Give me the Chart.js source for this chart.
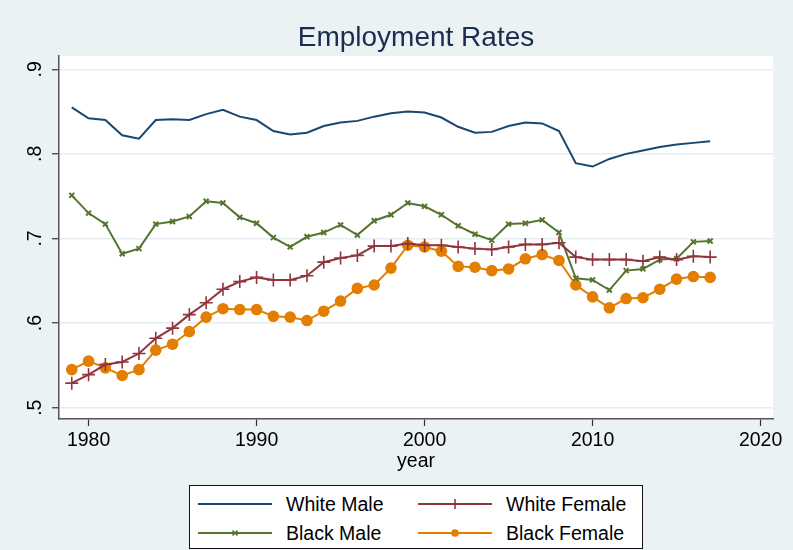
<!DOCTYPE html>
<html>
<head>
<meta charset="utf-8">
<style>
    html, body { margin: 0; padding: 0; background: #eaf2f3; }
    #wrap { position: relative; width: 793px; height: 550px; }
    #legend {
        position: absolute; left: 189px; top: 485px; width: 454px; height: 64px;
        background: #fff; border: 1.5px solid #111; box-sizing: border-box;
        font-family: 'Liberation Sans', Arial, sans-serif; font-size: 19.5px; color: #000;
    }
    .item { position: absolute; display: flex; align-items: center; height: 22px; }
    .item svg { margin-right: 14px; }
</style>
</head>
<body>
<div id="wrap">
    <canvas id="myChart" width="793" height="550"></canvas>
    <div id="legend"></div>
</div>
<script src="https://cdn.jsdelivr.net/npm/chart.js"></script>
<script>
    // data
    const years = [1979, 1980, 1981, 1982, 1983, 1984, 1985, 1986, 1987, 1988, 1989, 1990, 1991, 1992, 1993, 1994, 1995, 1996, 1997, 1998,
                   1999, 2000, 2001, 2002, 2003, 2004, 2005, 2006, 2007, 2008, 2009, 2010, 2011, 2012, 2013, 2014, 2015, 2016, 2017];
    const whiteMale = [0.855, 0.842, 0.840, 0.822, 0.818, 0.840, 0.841, 0.840, 0.847, 0.852, 0.844, 0.840, 0.827, 0.823, 0.825, 0.833, 0.837, 0.839, 0.844, 0.848,
                       0.850, 0.849, 0.843, 0.832, 0.825, 0.826, 0.833, 0.837, 0.836, 0.827, 0.789, 0.785, 0.794, 0.800, 0.804, 0.808, 0.811, 0.813, 0.815];
    const whiteFemale = [0.529, 0.539, 0.551, 0.554, 0.564, 0.582, 0.594, 0.610, 0.624, 0.640, 0.649, 0.654, 0.651, 0.651, 0.656, 0.672, 0.677, 0.680, 0.691, 0.691,
                         0.694, 0.692, 0.692, 0.690, 0.688, 0.687, 0.690, 0.693, 0.693, 0.695, 0.678, 0.675, 0.675, 0.675, 0.673, 0.678, 0.675, 0.679, 0.678];
    const blackMale = [0.751, 0.730, 0.717, 0.682, 0.688, 0.717, 0.720, 0.726, 0.744, 0.742, 0.725, 0.718, 0.701, 0.690, 0.702, 0.707, 0.716, 0.704, 0.721, 0.728,
                       0.742, 0.738, 0.728, 0.715, 0.705, 0.698, 0.717, 0.718, 0.722, 0.707, 0.653, 0.651, 0.639, 0.662, 0.664, 0.675, 0.676, 0.696, 0.697];
    const blackFemale = [0.545, 0.555, 0.547, 0.538, 0.545, 0.568, 0.575, 0.590, 0.607, 0.617, 0.616, 0.616, 0.608, 0.607, 0.603, 0.614, 0.626, 0.641, 0.645, 0.665,
                         0.692, 0.690, 0.685, 0.667, 0.666, 0.662, 0.664, 0.676, 0.681, 0.674, 0.645, 0.631, 0.618, 0.629, 0.630, 0.640, 0.652, 0.655, 0.654];

    const seriesNames = ['White Male', 'White Female', 'Black Male', 'Black Female'];
    const xTicks = [1980, 1990, 2000, 2010, 2020];
    const yTicks = [0.5, 0.6, 0.7, 0.8, 0.9];
    const yTickLabels = ['.5', '.6', '.7', '.8', '.9'];

    const FONT = "'Liberation Sans', Arial, sans-serif";
    const colors = ['#1a476f', '#90353b', '#55752f', '#e37e00'];
    const markers = [
        { pointStyle: 'circle', pointRadius: 0, pointBorderWidth: 0 },
        { pointStyle: 'cross', pointRadius: 6.5, pointBorderWidth: 1.6 },
        { pointStyle: 'crossRot', pointRadius: 3.5, pointBorderWidth: 2 },
        { pointStyle: 'circle', pointRadius: 5.8, pointBorderWidth: 0 }
    ];
    const series = [whiteMale, whiteFemale, blackMale, blackFemale];

    const datasets = series.map((vals, i) => Object.assign({
        label: seriesNames[i],
        data: years.map((yr, j) => ({ x: yr, y: vals[j] })),
        borderColor: colors[i],
        backgroundColor: colors[i],
        pointBackgroundColor: colors[i],
        pointBorderColor: colors[i],
        borderWidth: 2,
        tension: 0,
        fill: false
    }, markers[i]));

    // background, plot region, title and rotated y labels
    const stataLook = {
        id: 'stataLook',
        beforeDraw(chart) {
            const { ctx, chartArea: a } = chart;
            ctx.save();
            ctx.fillStyle = '#eaf2f3';
            ctx.fillRect(0, 0, chart.width, chart.height);
            ctx.fillStyle = '#ffffff';
            ctx.fillRect(a.left, a.top, a.right - a.left, a.bottom - a.top);
            ctx.restore();
        },
        afterDraw(chart) {
            const { ctx, chartArea: a } = chart;
            const yScale = chart.scales.y;
            ctx.save();
            ctx.fillStyle = '#1c2c50';
            ctx.font = '28px ' + FONT;
            ctx.textAlign = 'center';
            ctx.textBaseline = 'middle';
            ctx.fillText('Employment Rates', (a.left + a.right) / 2, 38);
            ctx.fillStyle = '#000';
            ctx.font = '19.5px ' + FONT;
            yTicks.forEach((v, i) => {
                const py = yScale.getPixelForValue(v);
                ctx.save();
                ctx.translate(36, py);
                ctx.rotate(-Math.PI / 2);
                ctx.fillText(yTickLabels[i], 0, 0);
                ctx.restore();
            });
            ctx.restore();
        }
    };

    const ctx = document.getElementById('myChart').getContext('2d');
    const myChart = new Chart(ctx, {
        type: 'line',
        data: { datasets: datasets },
        options: {
            responsive: false,
            animation: false,
            layout: { padding: { top: 56, right: 20, bottom: 77, left: 0 } },
            plugins: {
                legend: { display: false },
                title: { display: false },
                tooltip: { enabled: false }
            },
            scales: {
                x: {
                    type: 'linear',
                    min: 1978.24,
                    max: 2020.74,
                    afterBuildTicks: s => { s.ticks = xTicks.map(v => ({ value: v })); },
                    afterFit: s => { s.height = 54; },
                    ticks: {
                        color: '#000',
                        font: { family: FONT, size: 19.5 },
                        padding: 3,
                        maxRotation: 0,
                        callback: v => String(v)
                    },
                    grid: { drawOnChartArea: false, drawTicks: true, tickLength: 7, tickColor: '#333', tickWidth: 1.2 },
                    border: { color: '#555', width: 1.5 },
                    title: {
                        display: true,
                        text: 'year',
                        color: '#000',
                        font: { family: FONT, size: 19.5 },
                        padding: { top: 0, bottom: 0 }
                    }
                },
                y: {
                    min: 0.4866,
                    max: 0.9157,
                    afterBuildTicks: s => { s.ticks = yTicks.map(v => ({ value: v })); },
                    afterFit: s => { s.width = 59; },
                    ticks: { display: false },
                    grid: { color: '#e4eef0', lineWidth: 1.5, drawTicks: true, tickLength: 7, tickColor: '#333', tickWidth: 1.2 },
                    border: { color: '#555', width: 1.5 }
                }
            }
        },
        plugins: [stataLook]
    });

    // legend box, two columns like the reference
    const legend = document.getElementById('legend');
    const legendPos = [[8, 7], [228, 7], [8, 36], [228, 36]];
    const order = [0, 1, 2, 3];
    order.forEach((i, k) => {
        const c = colors[i];
        let mark = '';
        if (i === 1) mark = `<line x1="37" y1="2" x2="37" y2="12" stroke="${c}" stroke-width="1.6"/>`;
        if (i === 2) mark = `<path d="M34.5 4.5 L39.5 9.5 M39.5 4.5 L34.5 9.5" stroke="${c}" stroke-width="1.6"/>`;
        if (i === 3) mark = `<circle cx="37" cy="7" r="3.8" fill="${c}"/>`;
        const div = document.createElement('div');
        div.className = 'item';
        div.style.left = legendPos[k][0] + 'px';
        div.style.top = legendPos[k][1] + 'px';
        div.innerHTML = `<svg width="74" height="14"><line x1="0" y1="7" x2="74" y2="7" stroke="${c}" stroke-width="2"/>${mark}</svg><span>${seriesNames[i]}</span>`;
        legend.appendChild(div);
    });
</script>
</body>
</html>
